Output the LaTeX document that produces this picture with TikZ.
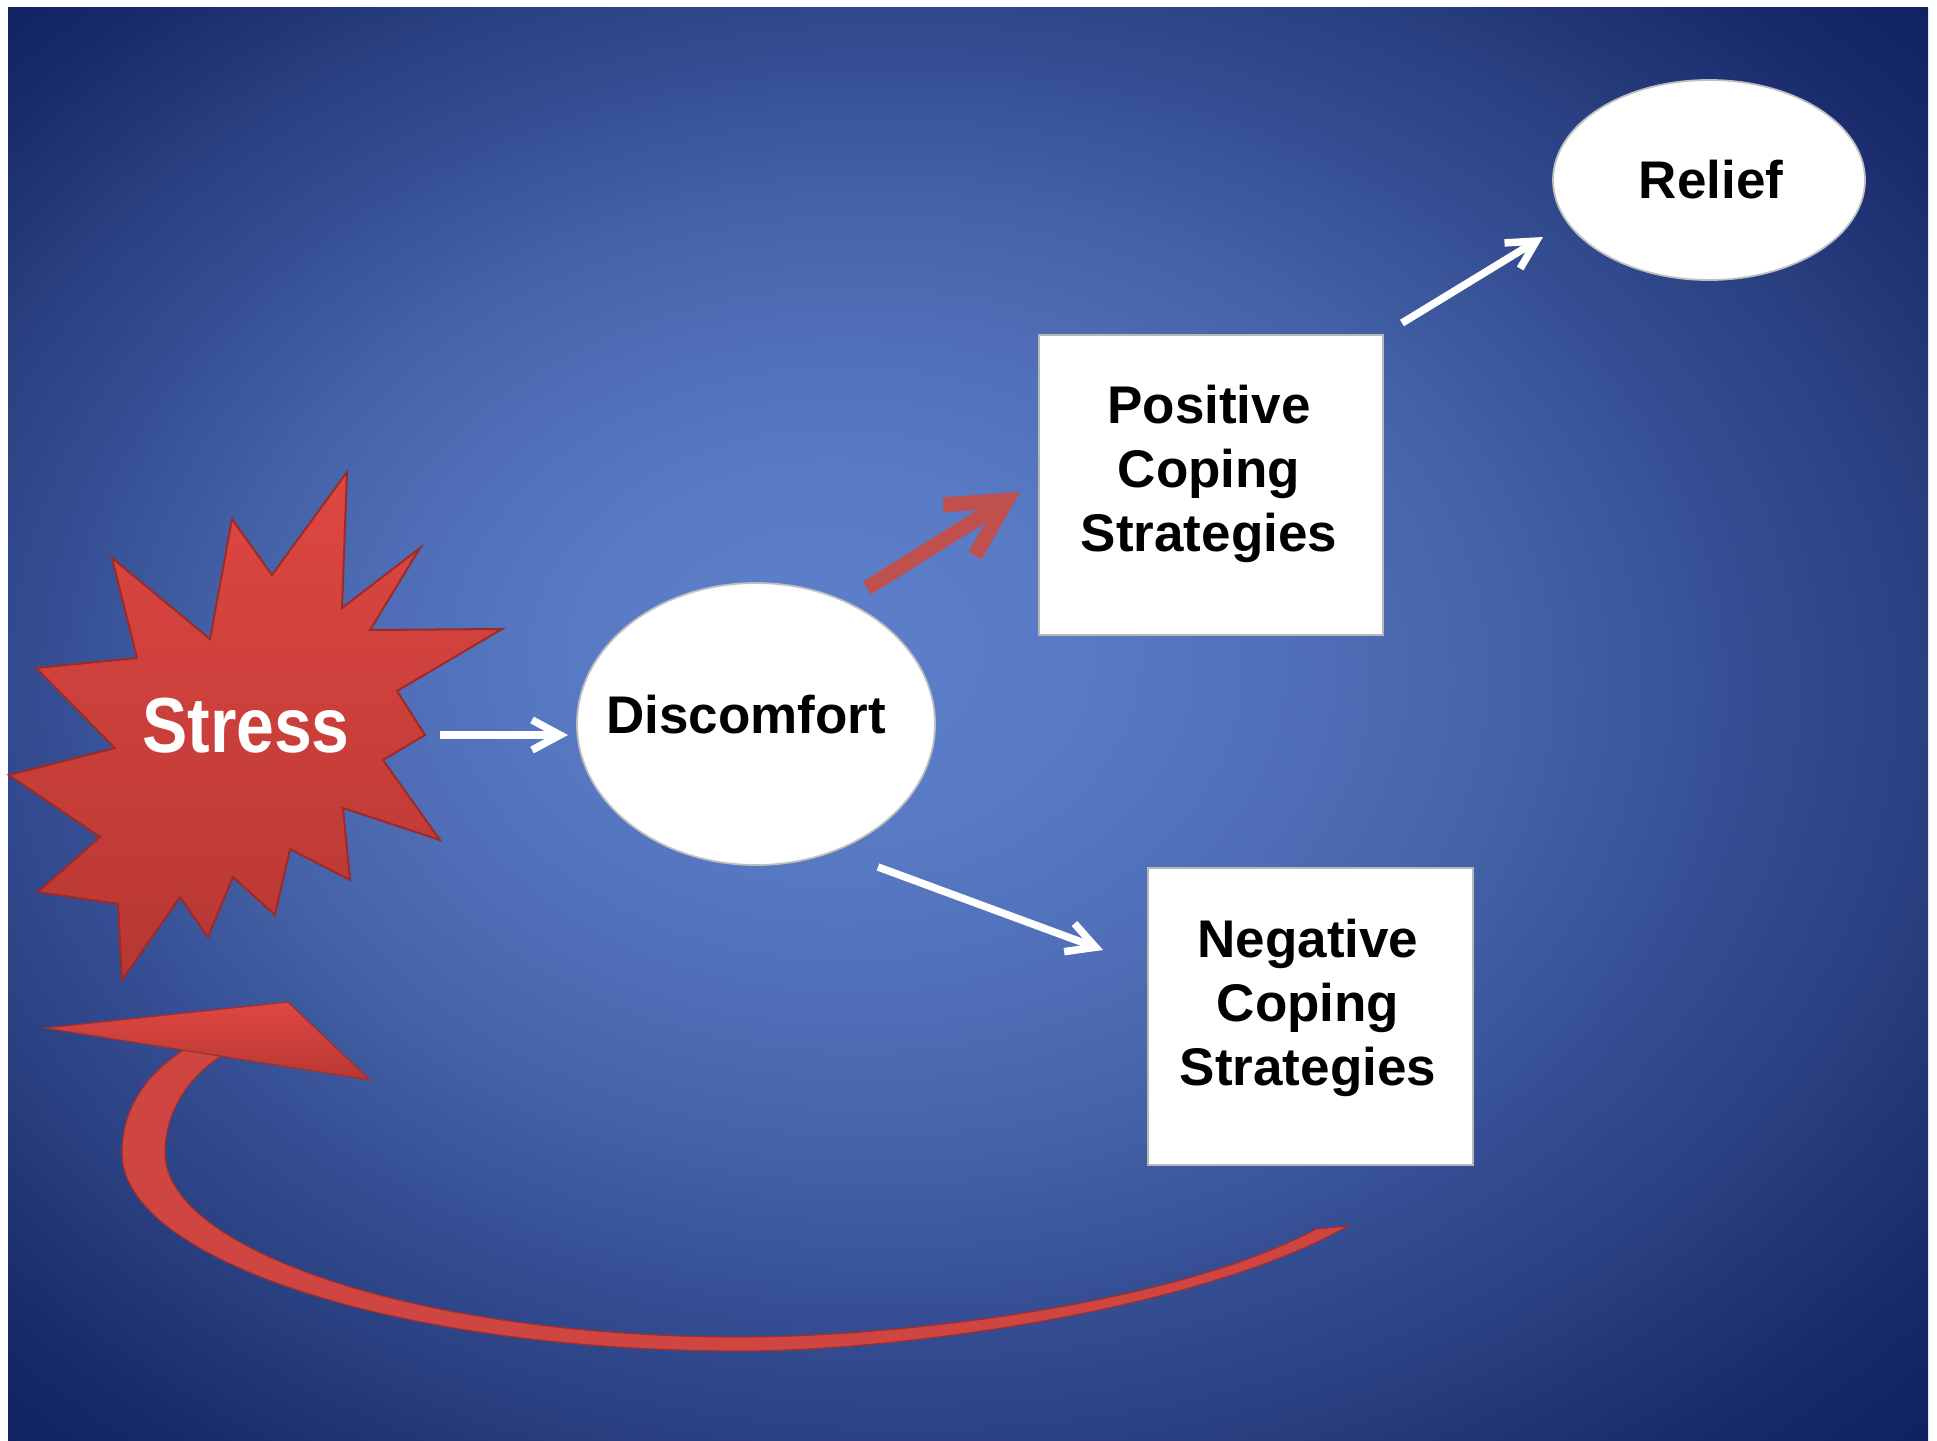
\documentclass[tikz,border=0pt]{standalone}
\usepackage{fontspec}
\setmainfont{Liberation Sans}
\usetikzlibrary{arrows.meta,shapes.geometric,calc}
\definecolor{bgA}{HTML}{5E80CA}
\definecolor{bgB}{HTML}{597BC5}
\definecolor{bgC}{HTML}{4F6EB7}
\definecolor{bgD}{HTML}{4361A6}
\definecolor{bgE}{HTML}{354E93}
\definecolor{bgF}{HTML}{283E7F}
\definecolor{bgG}{HTML}{192A6B}
\definecolor{bgH}{HTML}{0A1C58}
\definecolor{accRed}{HTML}{C0504D}
\definecolor{burstTop}{HTML}{DE4742}
\definecolor{burstBot}{HTML}{B73733}
\definecolor{burstEdge}{HTML}{9C2B28}
\definecolor{curveRed}{HTML}{CF4541}
\definecolor{curveEdge}{HTML}{A32F2B}
\pgfdeclareradialshading{bgshade}{\pgfpoint{-4.4bp}{2.9bp}}{color(0bp)=(bgA); color(6bp)=(bgB); color(12bp)=(bgC); color(17bp)=(bgD); color(22bp)=(bgE); color(27bp)=(bgF); color(32bp)=(bgG); color(38bp)=(bgH)}
\begin{document}
\begin{tikzpicture}[x=0.5pt,y=-0.5pt,
  boxtext/.style={font=\bfseries\fontsize{26.5pt}{32pt}\selectfont, text=black, inner sep=0pt, align=center},
  whitebox/.style={rectangle, fill=white, draw=black!28, line width=0.9pt, inner sep=0pt},
  whiteoval/.style={ellipse, fill=white, draw=black!25, line width=0.9pt, inner sep=0pt},
  wArrow/.style={draw=white, line width=3.75pt, -{Straight Barb[length=14pt,width=15pt]}},
  rArrow/.style={draw=accRed, line width=7.5pt, -{Straight Barb[length=28pt,width=30pt]}}]
\useasboundingbox (0,0) rectangle (1937,1440);
\fill[white] (0,0) rectangle (1937,1440);
\shade[shading=bgshade] (8,7) rectangle (1928,1440);

% curved feedback arrow (tapered shaft + head)
\fill[curveRed, draw=curveEdge, line width=0.6pt]
  (1348,1226) .. controls (1200,1310) and (900,1351) .. (741,1351)
  .. controls (400,1351) and (122,1260) .. (122,1153)
  .. controls (122,1105) and (150,1065) .. (205,1038)
  -- (240,1045)
  .. controls (190,1070) and (165,1110) .. (165,1153)
  .. controls (165,1250) and (420,1337) .. (741,1337)
  .. controls (895,1337) and (1175,1305) .. (1316,1229)
  -- cycle;
\shade[top color=burstTop, bottom color=burstBot, draw=curveEdge, line width=0.6pt]
  (45,1028) -- (288,1002) -- (370,1080) -- cycle;

% stress burst
\shade[top color=burstTop, bottom color=burstBot, draw=burstEdge, line width=1pt, line join=miter]
  (347,472) -- (342,608) -- (420,548) -- (370,630) -- (502,629) -- (397,691) -- (425,735)
  -- (383,760) -- (440,840) -- (343,808) -- (350,880) -- (290,849) -- (275,915) -- (233,877)
  -- (208,937) -- (180,897) -- (122,980) -- (118,904) -- (38,892) -- (100,837) -- (9,775)
  -- (115,748) -- (36,668) -- (137,658) -- (112,558) -- (210,639) -- (232,519) -- (272,575) -- cycle;
\node[anchor=base, text=white, font=\bfseries\fontsize{39pt}{44pt}\selectfont, inner sep=0pt]
  (stress) at (246,752) {\scalebox{0.87}[1]{Stress}};

% shapes
\node[whiteoval, minimum width=179pt, minimum height=141pt] (disc) at (756,724) {};
\node[whiteoval, minimum width=156pt, minimum height=100pt] (relief) at (1709,180) {};
\node[whitebox, minimum width=172pt, minimum height=150pt] (pos) at (1211,485) {};
\node[whitebox, minimum width=162.5pt, minimum height=148.5pt] (neg) at (1310.5,1016.5) {};

% texts
\node[boxtext, anchor=base] (discT) at (746,733) {Discomfort};
\node[boxtext, anchor=base] (reliefT) at (1711,198) {Relief};
\node[boxtext, anchor=base] (posT) at (1209,551) {Positive\\Coping\\Strategies};
\node[boxtext, anchor=base] (negT) at (1308,1085) {Negative\\Coping\\Strategies};

% arrow end points
\coordinate (stressOut) at (440,735);
\coordinate (discIn) at (568,735);
\coordinate (discUp) at (867,588);
\coordinate (posIn) at (1020,492);
\coordinate (posOut) at (1402,323);
\coordinate (reliefIn) at (1543,237);
\coordinate (discDown) at (878,867);
\coordinate (negIn) at (1103,950);

\draw[wArrow] (stressOut) -- (discIn);
\draw[rArrow] (discUp) -- (posIn);
\draw[wArrow] (posOut) -- (reliefIn);
\draw[wArrow] (discDown) -- (negIn);
\end{tikzpicture}
\end{document}
